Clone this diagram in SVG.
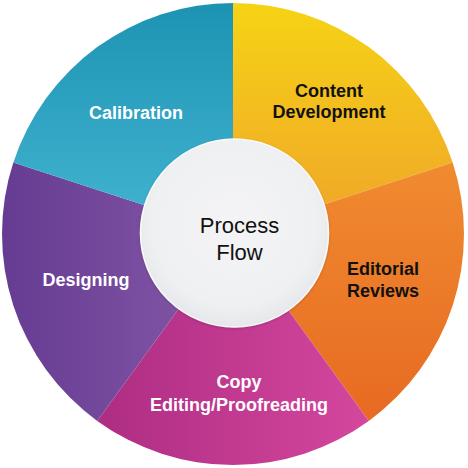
<svg xmlns="http://www.w3.org/2000/svg" width="468" height="468" viewBox="0 0 468 468">
<defs>
<linearGradient id="gTeal" x1="0" y1="0" x2="0" y2="1">
<stop offset="0" stop-color="#1d93b3"/><stop offset="1" stop-color="#43b5d1"/>
</linearGradient>
<linearGradient id="gYellow" x1="0" y1="0" x2="0" y2="1">
<stop offset="0" stop-color="#f6d315"/><stop offset="1" stop-color="#efa42a"/>
</linearGradient>
<linearGradient id="gOrange" x1="0" y1="0" x2="0" y2="1">
<stop offset="0" stop-color="#f08b30"/><stop offset="1" stop-color="#e76a22"/>
</linearGradient>
<linearGradient id="gMagenta" x1="0" y1="0" x2="1" y2="0">
<stop offset="0" stop-color="#ad2d83"/><stop offset="1" stop-color="#d4479d"/>
</linearGradient>
<linearGradient id="gPurple" x1="0" y1="0" x2="1" y2="0">
<stop offset="0" stop-color="#653c92"/><stop offset="1" stop-color="#8659a8"/>
</linearGradient>
<radialGradient id="gCenter" cx="0.5" cy="0.45" r="0.55">
<stop offset="0" stop-color="#f4f4f6"/><stop offset="0.8" stop-color="#eff0f2"/><stop offset="1" stop-color="#e6e7ea"/>
</radialGradient>
<filter id="shadow" x="-20%" y="-20%" width="140%" height="140%">
<feGaussianBlur in="SourceAlpha" stdDeviation="1.5"/>
<feOffset dx="0" dy="1" result="b"/>
<feComponentTransfer><feFuncA type="linear" slope="0.18"/></feComponentTransfer>
<feMerge><feMergeNode/><feMergeNode in="SourceGraphic"/></feMerge>
</filter>
</defs>
<style>
.lbl{font-family:"Liberation Sans",Arial,sans-serif;font-weight:bold;font-size:18px;text-anchor:middle}
.w{fill:#ffffff}
.k{fill:#111111}
.c{font-family:"Liberation Sans",Arial,sans-serif;font-size:22px;text-anchor:middle;fill:#111111}
</style>
<rect width="468" height="468" fill="#ffffff"/>
<g id="content-development">
<path d="M233,234 L233,3 A231,231 0 0 1 452.69,162.62 Z" fill="url(#gYellow)"/>
<text class="lbl k" x="329" y="97">Content</text>
<text class="lbl k" x="329" y="118">Development</text>
</g>
<g id="editorial-reviews">
<path d="M233,234 L452.69,162.62 A231,231 0 0 1 368.78,420.88 Z" fill="url(#gOrange)"/>
<text class="lbl k" x="383" y="275">Editorial</text>
<text class="lbl k" x="383" y="297">Reviews</text>
</g>
<g id="copy-editing">
<path d="M233,234 L368.78,420.88 A231,231 0 0 1 97.22,420.88 Z" fill="url(#gMagenta)"/>
<text class="lbl w" x="239" y="388">Copy</text>
<text class="lbl w" x="239" y="411">Editing/Proofreading</text>
</g>
<g id="designing">
<path d="M233,234 L97.22,420.88 A231,231 0 0 1 13.31,162.62 Z" fill="url(#gPurple)"/>
<text class="lbl w" x="86" y="286">Designing</text>
</g>
<g id="calibration">
<path d="M233,234 L13.31,162.62 A231,231 0 0 1 233,3 Z" fill="url(#gTeal)"/>
<text class="lbl w" x="136" y="119">Calibration</text>
</g>
<g id="process-flow">
<circle cx="234.5" cy="233" r="94" fill="url(#gCenter)" stroke="#fafafa" stroke-width="1.5" filter="url(#shadow)"/>
<text class="c" x="239.5" y="233">Process</text>
<text class="c" x="239.5" y="260">Flow</text>
</g>
<g id="connectors"></g>
</svg>
